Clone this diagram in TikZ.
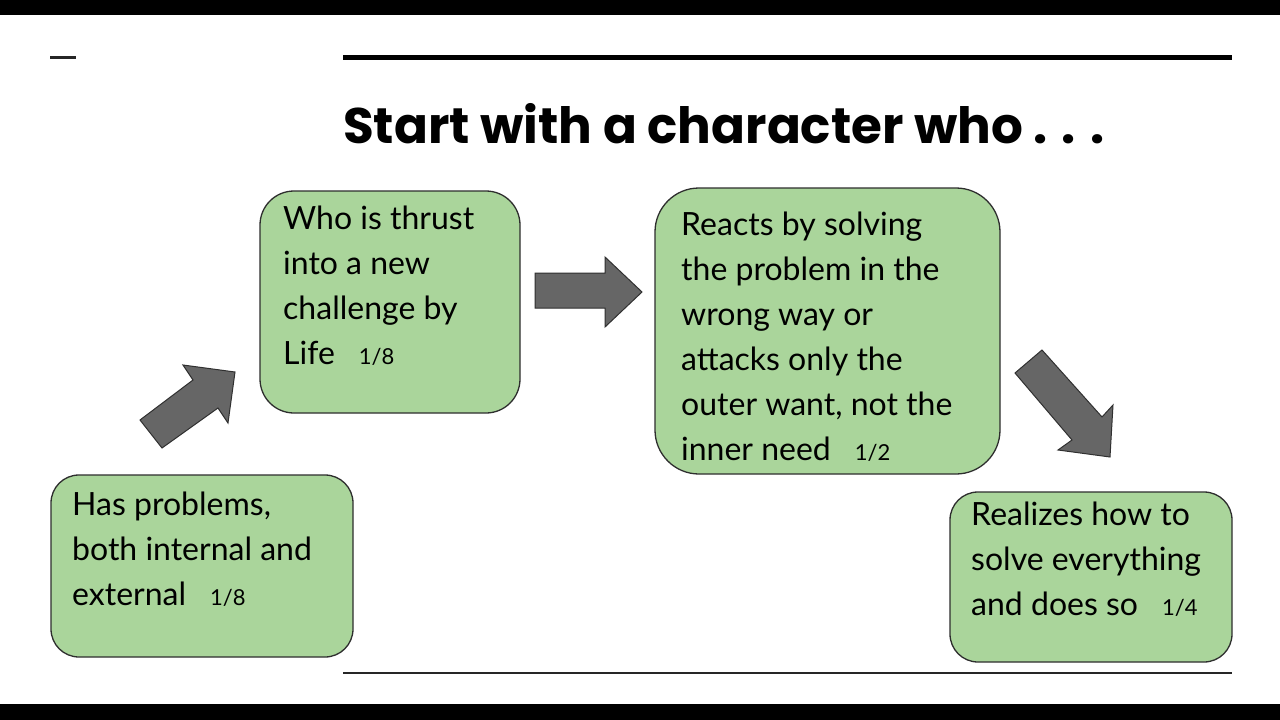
\documentclass[tikz,border=0pt]{standalone}
\usepackage{fontspec}
\setmainfont{Lato}
\newfontfamily\titlefont{Poppins}
\definecolor{boxgreen}{HTML}{AAD59B}
\definecolor{boxline}{HTML}{2E2E2E}
\definecolor{arrowgray}{HTML}{666666}
\definecolor{arrowline}{HTML}{303030}
\begin{document}
\begin{tikzpicture}[x=1pt,y=-1pt,
  box/.style={draw=boxline, fill=boxgreen, line width=1.3pt, inner sep=0pt},
  blockarrow/.style={draw=arrowline, fill=arrowgray, line width=1pt, line join=miter},
  body/.style={anchor=base west, inner sep=0pt, align=left, font=\fontsize{32}{45}\selectfont}]
\newcommand{\fr}[1]{\hspace{24pt}{\fontsize{22}{22}\selectfont #1}}
% background and frame bars
\fill[white] (0,0) rectangle (1280,720);
\fill[black] (0,0) rectangle (1280,15);
\fill[black] (0,704) rectangle (1280,720);
\useasboundingbox (0,0) rectangle (1280,720);
% rules
\draw[line width=3pt, black!85] (50,57) -- (76,57);
\draw[line width=5pt, black] (343,57) -- (1232,57);
\draw[line width=2.6pt, black!85] (343,673) -- (1232,673);
% title
\node[anchor=base west, inner sep=0pt, font=\titlefont\bfseries\fontsize{50}{50}\selectfont] (title) at (343,143) {Start with a character who . . .};
% boxes
\node[box, rounded corners=28pt, minimum width=302pt, minimum height=182pt] (b1) at (202,566) {};
\node[box, rounded corners=34pt, minimum width=260pt, minimum height=222pt] (b2) at (390,302) {};
\node[box, rounded corners=44pt, minimum width=345pt, minimum height=286pt] (b3) at (827.5,331) {};
\node[box, rounded corners=28pt, minimum width=282pt, minimum height=170pt] (b4) at (1091,577) {};
% texts (anchored at the baseline of their last line)
\node[body] (t1) at (72,605) {Has problems,\\both internal and\\external\fr{1/8}};
\node[body] (t2) at (283,364) {Who is thrust\\into a new\\challenge by\\Life\fr{1/8}};
\node[body] (t3) at (681,460) {Reacts by solving\\the problem in the\\wrong way or\\attacks only the\\outer want, not the\\inner need\fr{1/2}};
\node[body] (t4) at (971,615) {Realizes how to\\solve everything\\and does so\fr{1/4}};
% block arrows
\draw[blockarrow] (140,420) -- (193,380) -- (183,365) -- (235,372) -- (228,423) -- (218,408) -- (162,448) -- cycle;
\draw[blockarrow] (535,273) -- (605,273) -- (605,257) -- (642,292) -- (605,327) -- (605,308) -- (535,308) -- cycle;
\draw[blockarrow] (1015,373) -- (1042,350) -- (1102,417) -- (1113,405) -- (1110,457) -- (1058,450) -- (1072,440) -- cycle;
\end{tikzpicture}
\end{document}
